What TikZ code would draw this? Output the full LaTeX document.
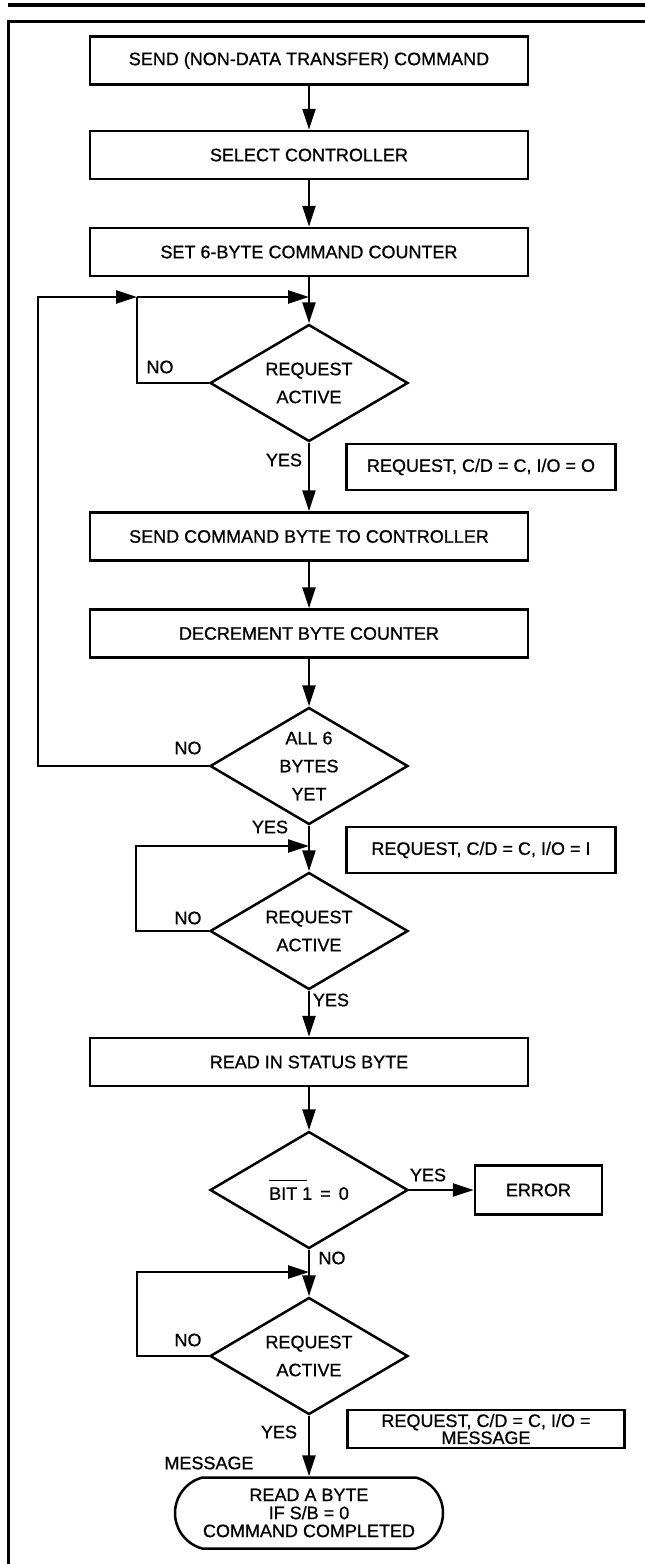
\documentclass[tikz,border=0pt]{standalone}
\usepackage{fontspec}
\setmainfont{Liberation Sans}
\newfontfamily\flowfont{Liberation Sans}[FakeBold=0.8]
\usetikzlibrary{shapes.geometric,shapes.misc,arrows.meta}
\begin{document}
\begin{tikzpicture}[x=1pt,y=-1pt,
  every node/.style={font=\flowfont\fontsize{18}{28}\selectfont, inner sep=0pt},
  proc/.style={draw, line width=2.5pt, minimum width=438pt, minimum height=48pt},
  note/.style={draw, line width=2.3pt, minimum width=269pt, minimum height=46pt},
  dec/.style={draw, diamond, line width=2.5pt, minimum width=198pt, minimum height=117pt, align=center, aspect=1.7},
  flow/.style={line width=2.5pt, -{Triangle[length=21pt,width=13pt]}},
  wire/.style={line width=2.5pt}
]
\useasboundingbox (0,0) rectangle (645,1564);
% frame
\draw[line width=4pt] (8,4.5) -- (645,4.5);
\draw[line width=3pt] (645,21.7) -- (8.7,21.7) -- (8.7,1564);

% nodes
\node[proc] (B1) at (309,60.5) {SEND (NON-DATA TRANSFER) COMMAND};
\node[proc] (B2) at (309,155) {SELECT CONTROLLER};
\node[proc] (B3) at (309,252) {SET 6-BYTE COMMAND COUNTER};
\node[dec] (D1) at (309,383) {REQUEST\\ACTIVE};
\node[note] (N1) at (481,467) {REQUEST, C/D = C, I/O = O};
\node[proc] (B4) at (309,536.5) {SEND COMMAND BYTE TO CONTROLLER};
\node[proc] (B5) at (309,633.5) {DECREMENT BYTE COUNTER};
\node[dec] (D2) at (309,766) {ALL 6\\BYTES\\YET};
\node[note] (N2) at (481,850) {REQUEST, C/D = C, I/O = I};
\node[dec] (D3) at (309,931) {REQUEST\\ACTIVE};
\node[proc] (B6) at (309,1062) {READ IN STATUS BYTE};
\node[dec] (D4) at (309,1190) {\makebox[0pt][l]{\rule[18.5pt]{38pt}{1.2pt}}BIT 1 \,=\, 0};
\node[draw, line width=2.5pt, minimum width=127pt, minimum height=49pt] (ERR) at (538.5,1190) {ERROR};
\node[dec] (D5) at (309,1356) {REQUEST\\ACTIVE};
\node[note, minimum width=277pt, minimum height=38pt, align=center, font=\flowfont\fontsize{18}{17}\selectfont] (N3) at (486,1429) {REQUEST, C/D = C, I/O =\\MESSAGE};
\node[draw, rounded rectangle, rounded rectangle arc length=150, line width=2.5pt, minimum width=268pt, minimum height=71pt, align=center, font=\flowfont\fontsize{18}{18}\selectfont] (T) at (309,1513) {READ A BYTE\\IF S/B = 0\\COMMAND COMPLETED};

% labels
\node (l1) at (160,367) {NO};
\node (l2) at (284,460) {YES};
\node (l3) at (188,748) {NO};
\node (l4) at (270,827) {YES};
\node (l5) at (188,918) {NO};
\node (l6) at (331,1000) {YES};
\node (l7) at (428,1175) {YES};
\node (l8) at (332,1258) {NO};
\node (l9) at (188,1340) {NO};
\node (l10) at (279,1432) {YES};
\node (l11) at (209,1463) {MESSAGE};

% junction coordinates
\coordinate (j1) at (137,297);
\coordinate (m1) at (309,297);
\coordinate (m2) at (309,846);
\coordinate (m3) at (309,1272);

% main flow
\draw[flow] (B1.south) -- (B2.north);
\draw[flow] (B2.south) -- (B3.north);
\draw[flow] (B3.south) -- (D1.north);
\draw[flow] (D1.south) -- (B4.north);
\draw[flow] (B4.south) -- (B5.north);
\draw[flow] (B5.south) -- (D2.north);
\draw[flow] (D2.south) -- (D3.north);
\draw[flow] (D3.south) -- (B6.north);
\draw[flow] (B6.south) -- (D4.north);
\draw[flow] (D4.east) -- (ERR.west);
\draw[flow] (D4.south) -- (D5.north);
\draw[flow] (D5.south) -- (T.north);

% loops
\draw[flow] (D2.west) -- (38,766) -- (38,297) -- (j1);
\draw[wire] (D1.west) -- (137,383) -- (j1);
\draw[flow] (j1) -- (m1);
\draw[flow] (D3.west) -- (136,931) -- (136,846) -- (m2);
\draw[flow] (D5.west) -- (137,1356) -- (137,1272) -- (m3);
\end{tikzpicture}
\end{document}
